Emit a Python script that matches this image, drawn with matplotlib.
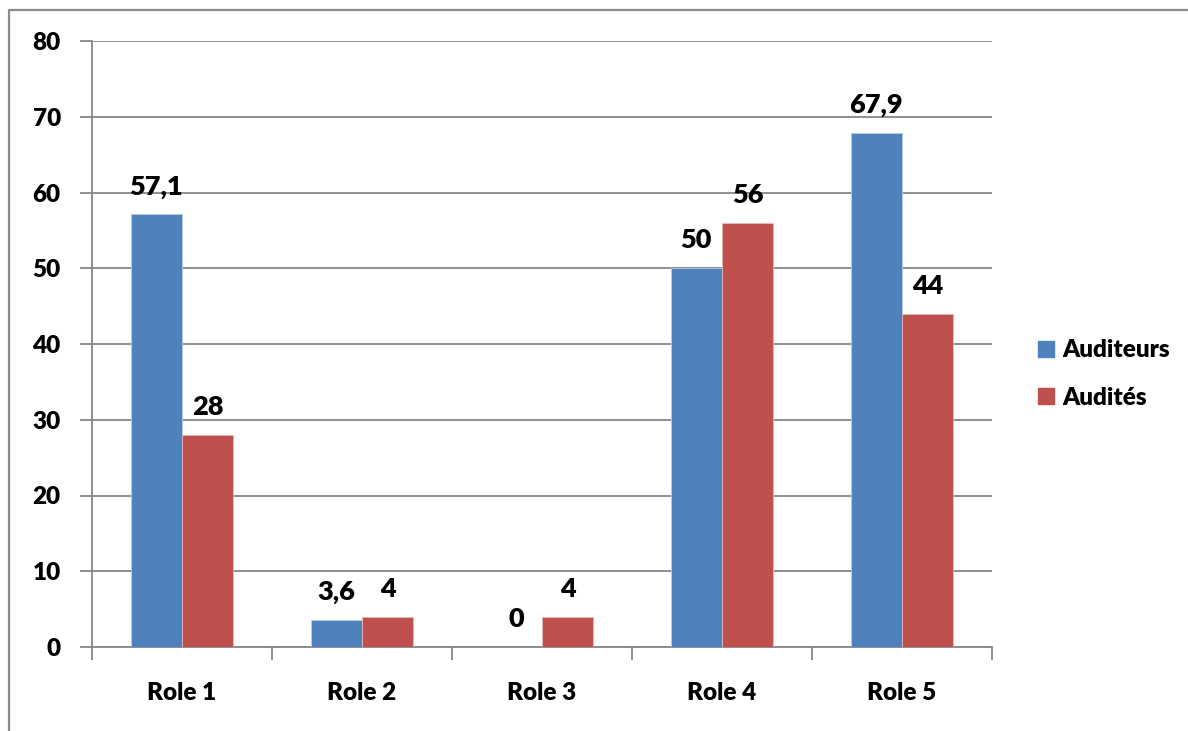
import matplotlib
matplotlib.use("Agg")
import matplotlib.pyplot as plt
from matplotlib.lines import Line2D
import numpy as np

categories = ["Role 1", "Role 2", "Role 3", "Role 4", "Role 5"]
auditeurs = [57.1, 3.6, 0, 50, 67.9]
audites = [28, 4, 4, 56, 44]
series_names = ["Auditeurs", "Audités"]
label_auditeurs = ["57,1", "3,6", "0", "50", "67,9"]
label_audites = ["28", "4", "4", "56", "44"]
yticks = [0, 10, 20, 30, 40, 50, 60, 70, 80]

W, H = 1188, 731
DPI = 100
WEIGHT = 800
plt.rcParams["font.family"] = ["Lato", "DejaVu Sans"]

fig = plt.figure(figsize=(W / DPI, H / DPI), dpi=DPI)
fig.patch.set_facecolor("white")

# plot area in pixel coordinates
left, right, top, bottom = 92, 992, 41, 647
ax = fig.add_axes([left / W, 1 - bottom / H, (right - left) / W, (bottom - top) / H])

grey = "#868686"
blue = "#4F81BD"
red = "#C0504D"

x = np.arange(len(categories))
bw = 1 / 3.5
b1 = ax.bar(x - bw / 2, auditeurs, width=bw, color=blue, edgecolor="#B9CDE5", linewidth=0.6, zorder=3)
b2 = ax.bar(x + bw / 2, audites, width=bw, color=red, edgecolor="#E6B9B8", linewidth=0.6, zorder=3)

for bars, labels in ((b1, label_auditeurs), (b2, label_audites)):
    for rect, lab in zip(bars, labels):
        ax.annotate(lab, (rect.get_x() + rect.get_width() / 2, rect.get_height()),
                    xytext=(0, 20), textcoords="offset pixels",
                    ha="center", va="baseline", fontsize=19.5, fontweight=WEIGHT, color="black")

ax.set_xlim(-0.5, len(categories) - 0.5)
ax.set_ylim(0, 80)
ax.set_yticks(yticks)
ax.set_yticklabels([str(v) for v in yticks])
ax.yaxis.grid(True, color=grey, linewidth=1.3, zorder=0)
ax.set_axisbelow(True)

ax.set_xticks(np.arange(len(categories) + 1) - 0.5)
ax.set_xticklabels([])
ax.set_xticks(x, minor=True)
ax.set_xticklabels(categories, minor=True)
ax.tick_params(axis="x", which="major", length=9, width=1.3, color=grey, direction="out")
ax.tick_params(axis="x", which="minor", length=0, pad=25, labelsize=17.5)
ax.tick_params(axis="y", length=9, width=1.3, color=grey, pad=13.5, labelsize=17.5)
for t in ax.get_xticklabels(minor=True) + ax.get_yticklabels():
    t.set_fontweight(WEIGHT)

for s in ("top", "right"):
    ax.spines[s].set_visible(False)
for s in ("left", "bottom"):
    ax.spines[s].set_color(grey)
    ax.spines[s].set_linewidth(1.3)

# legend
handles = [plt.Rectangle((0, 0), 1, 1, color=blue), plt.Rectangle((0, 0), 1, 1, color=red)]
fig.legend(handles, series_names, loc="center left", bbox_to_anchor=(1016 / W, 1 - 374 / H),
           frameon=False, prop={"size": 17.5, "weight": WEIGHT},
           handlelength=0.65, handleheight=0.65, handletextpad=0.35, labelspacing=1.05)

# chart outer frame
fig.add_artist(Line2D([9 / W, 9 / W, 1.0], [0, 1 - 10 / H, 1 - 10 / H],
                      transform=fig.transFigure, color="#8C8C8C", linewidth=1.6))

fig.savefig("out.png", dpi=DPI)
